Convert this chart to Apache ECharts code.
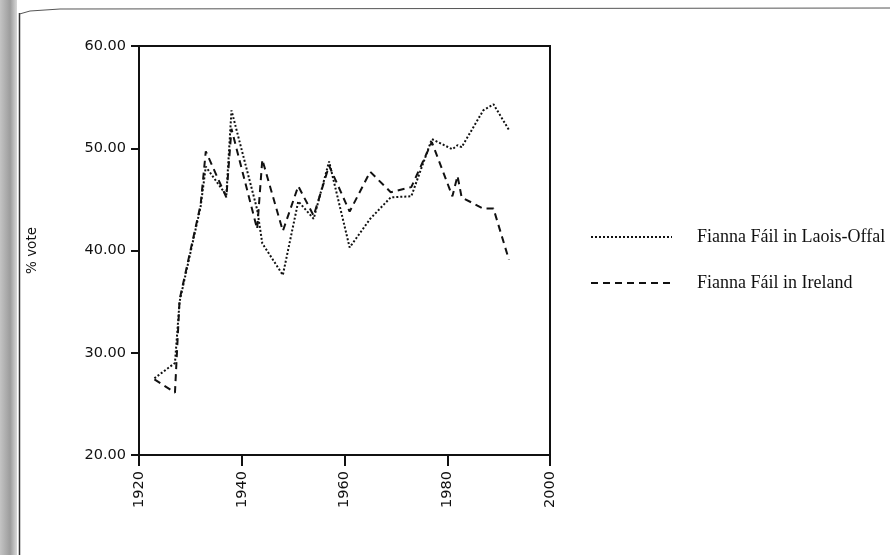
<!DOCTYPE html>
<html>
<head>
<meta charset="utf-8">
<script src="https://cdn.jsdelivr.net/npm/echarts@6/dist/echarts.min.js"></script>
<style>
  html, body { margin: 0; padding: 0; background: #fff; }
  #chart { width: 890px; height: 555px; }
</style>
</head>
<body>
<div id="chart"></div>
<script>
// election years (the two 1927 and two 1982 contests sit slightly apart)
const years = [1923, 1927, 1927.9, 1932, 1933, 1937, 1938, 1943, 1944, 1948,
  1951, 1954, 1957, 1961, 1965, 1969, 1973, 1977, 1981, 1982, 1982.8,
  1987, 1989, 1992];
const laoisOffaly = [27.5, 29.0, 35.0, 44.3, 48.2, 45.4, 53.7, 44.0, 40.7, 37.6,
  44.8, 43.1, 48.7, 40.3, 43.1, 45.2, 45.3, 50.9, 49.9, 50.3, 50.1,
  53.7, 54.3, 51.8];
const ireland = [27.4, 26.1, 35.2, 44.5, 49.7, 45.2, 51.9, 42.1, 48.9, 41.9,
  46.3, 43.4, 48.3, 43.8, 47.7, 45.7, 46.2, 50.6, 45.3, 47.3, 45.2,
  44.1, 44.1, 39.1];
const seriesNames = ['Fianna Fáil in Laois-Offal', 'Fianna Fáil in Ireland'];

const pairs = (ys) => years.map((x, i) => [x, ys[i]]);

const chart = echarts.init(document.getElementById('chart'));
const option = {
  animation: false,
  backgroundColor: '#fff',
  grid: {
    left: 139, right: 340, top: 46, bottom: 100,
    show: true, borderColor: '#111', borderWidth: 2, backgroundColor: 'transparent'
  },
  legend: {
    orient: 'vertical',
    left: 585, top: 222,
    itemWidth: 81, itemHeight: 14, itemGap: 26,
    data: seriesNames,
    itemStyle: { opacity: 0 },
    textStyle: {
      fontFamily: 'Liberation Serif', fontSize: 18, color: '#111',
      lineHeight: 20, padding: [0, 0, 0, 20]
    }
  },
  xAxis: {
    type: 'value', min: 1920, max: 2000, interval: 20,
    splitLine: { show: false },
    axisLine: { lineStyle: { color: '#111', width: 2 } },
    axisTick: { length: 11, lineStyle: { color: '#111', width: 2 } },
    axisLabel: {
      rotate: 90, margin: 16, color: '#111',
      fontFamily: 'DejaVu Sans', fontSize: 14.5,
      formatter: (v) => String(v)
    }
  },
  yAxis: {
    type: 'value', min: 20, max: 60, interval: 10,
    name: '% vote', nameLocation: 'middle', nameRotate: 90, nameGap: 100,
    nameTextStyle: { fontFamily: 'DejaVu Sans', fontSize: 13.5, color: '#111' },
    splitLine: { show: false },
    axisLine: { lineStyle: { color: '#111', width: 2 } },
    axisTick: { length: 8, lineStyle: { color: '#111', width: 2 } },
    axisLabel: {
      margin: 13, color: '#111', fontFamily: 'DejaVu Sans', fontSize: 14.5,
      formatter: (v) => v.toFixed(2)
    }
  },
  series: [{
    name: seriesNames[0], type: 'line', data: pairs(laoisOffaly),
    symbol: 'none', color: '#111',
    lineStyle: { color: '#111', width: 2, type: [2, 2] }
  }, {
    name: seriesNames[1], type: 'line', data: pairs(ireland),
    symbol: 'none', color: '#111',
    lineStyle: { color: '#111', width: 2, type: [7, 5] }
  }],
  graphic: [
    // scanned page edge
    { type: 'rect', shape: { x: 0, y: 0, width: 17, height: 555 },
      style: { fill: new echarts.graphic.LinearGradient(0, 0, 1, 0, [
        { offset: 0, color: '#c4c4c4' }, { offset: 0.6, color: '#9c9c9c' }, { offset: 1, color: '#d8d8d8' }]) } },
    { type: 'line', shape: { x1: 19.5, y1: 13, x2: 19.5, y2: 555 },
      style: { stroke: '#333', lineWidth: 1.5 } },
    { type: 'polyline', shape: { points: [[19.5, 14], [30, 11], [60, 9], [890, 8]] },
      style: { stroke: '#555', lineWidth: 1, fill: null } }
  ]
};
chart.setOption(option);
</script>
</body>
</html>
